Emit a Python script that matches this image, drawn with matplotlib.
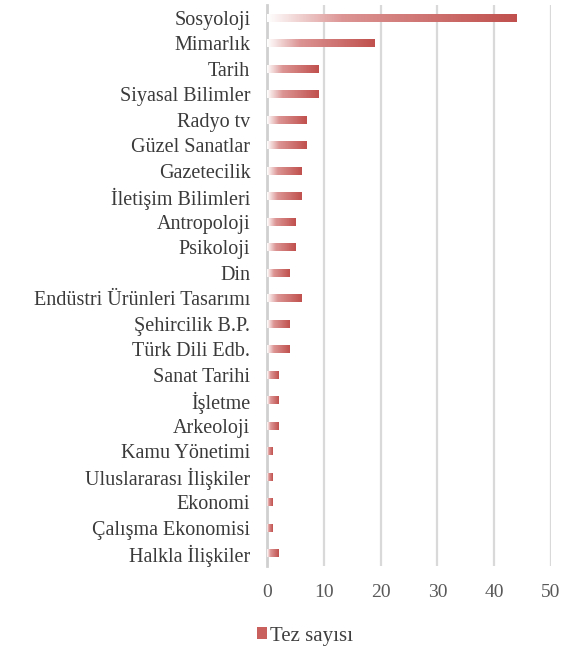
import matplotlib
matplotlib.use("Agg")
import matplotlib.pyplot as plt
from matplotlib.colors import LinearSegmentedColormap
from matplotlib.patches import Patch
import numpy as np

plt.rcParams['font.family'] = ['Liberation Serif', 'DejaVu Serif']

categories = ["Sosyoloji", "Mimarlık", "Tarih", "Siyasal Bilimler", "Radyo tv",
              "Güzel Sanatlar", "Gazetecilik", "İletişim Bilimleri", "Antropoloji",
              "Psikoloji", "Din", "Endüstri Ürünleri Tasarımı", "Şehircilik B.P.",
              "Türk Dili Edb.", "Sanat Tarihi", "İşletme", "Arkeoloji", "Kamu Yönetimi",
              "Uluslararası İlişkiler", "Ekonomi", "Çalışma Ekonomisi", "Halkla İlişkiler"]
values = [44, 19, 9, 9, 7, 7, 6, 6, 5, 5, 4, 6, 4, 4, 2, 2, 2, 1, 1, 1, 1, 2]
xticks = [0, 10, 20, 30, 40, 50]
series_name = "Tez sayısı"

# white -> red gradient, like the Excel fill
grad = LinearSegmentedColormap.from_list(
    "redgrad", [(0.0, "#ffffff"), (0.3, "#dc9594"), (1.0, "#c0504d")])

fig = plt.figure(figsize=(5.66, 6.49), dpi=100)
ax = fig.add_axes([267 / 566, 1 - 566 / 649, 284 / 566, 561 / 649])

y = np.arange(len(categories))
bar_h = 0.3
bars = ax.barh(y, values, height=bar_h, color="none", zorder=3)
ramp = np.linspace(0, 1, 256).reshape(1, -1)
for b in bars:
    x0, y0 = b.get_x(), b.get_y()
    w, h = b.get_width(), b.get_height()
    ax.imshow(ramp, cmap=grad, aspect="auto", extent=(x0, x0 + w, y0 + h, y0),
              zorder=3, interpolation="bilinear")

ax.set_xlim(0, 50)
ax.set_ylim(len(categories) - 0.5, -0.5)
ax.set_xticks(xticks)
ax.set_yticks(y)
ax.set_yticklabels(categories, fontsize=14.5, color="#3a3a3a")
ax.tick_params(axis="y", length=0, pad=12)
ax.tick_params(axis="x", length=0, pad=13, labelsize=14, labelcolor="#595959")
ax.grid(axis="x", color="#d9d9d9", linewidth=1.6, zorder=0)
for s in ["top", "right", "bottom"]:
    ax.spines[s].set_visible(False)
ax.spines["left"].set_color("#d0d0d0")
ax.spines["left"].set_linewidth(2)

fig.legend(handles=[Patch(facecolor="#c9605e", edgecolor="none", label=series_name)],
           loc="center left", bbox_to_anchor=(238 / 566, 1 - 636 / 649),
           frameon=False, fontsize=15, handlelength=0.5, handleheight=0.5,
           handletextpad=0.15, labelcolor="#404040")

fig.savefig("out.png", dpi=100)
